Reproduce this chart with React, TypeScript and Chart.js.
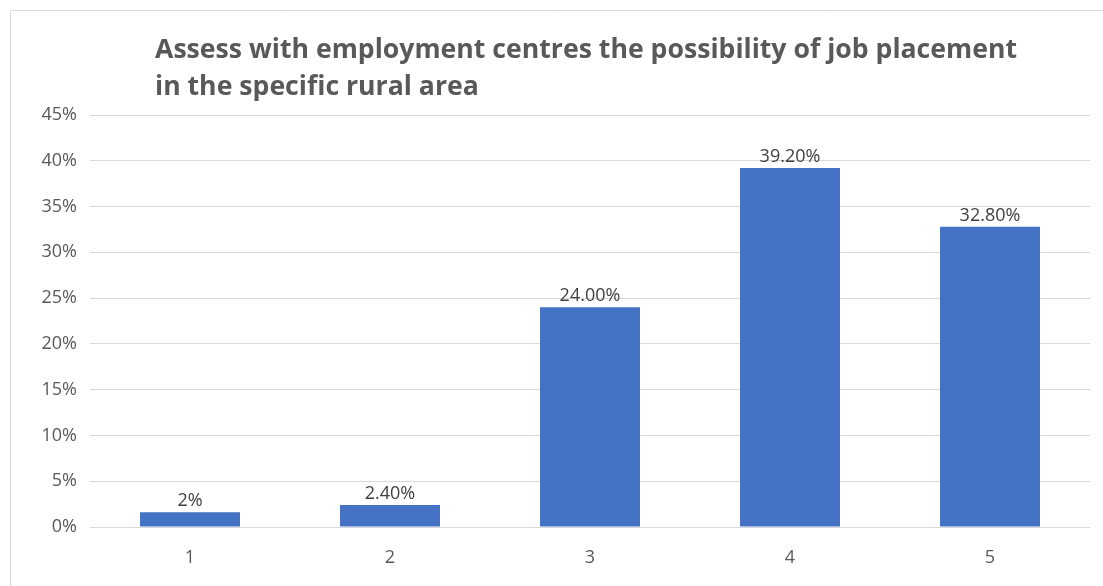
import React, { useEffect, useRef } from "react";
import { Chart, registerables } from "chart.js";

Chart.register(...registerables);

const categories = ["1", "2", "3", "4", "5"];
const values = [1.6, 2.4, 24.0, 39.2, 32.8];
const valueLabels = ["2%", "2.40%", "24.00%", "39.20%", "32.80%"];
const titleLines = [
  "Assess with employment centres the possibility of job placement",
  "in the specific rural area",
];

const FONT = "'Open Sans', 'Noto Sans', sans-serif";

const decorPlugin = {
  id: "decor",
  beforeDraw(chart: any) {
    const ctx = chart.ctx;
    ctx.save();
    ctx.fillStyle = "#ffffff";
    ctx.fillRect(0, 0, chart.width, chart.height);
    ctx.strokeStyle = "#d9d9d9";
    ctx.lineWidth = 1;
    ctx.beginPath();
    ctx.moveTo(10.5, chart.height);
    ctx.lineTo(10.5, 10.5);
    ctx.lineTo(chart.width, 10.5);
    ctx.stroke();
    ctx.restore();
  },
  afterDraw(chart: any) {
    const ctx = chart.ctx;
    ctx.save();
    // title
    ctx.fillStyle = "#595959";
    ctx.font = `bold 26px ${FONT}`;
    ctx.textAlign = "left";
    ctx.textBaseline = "alphabetic";
    const x0 = chart.chartArea.left + 65;
    const w = ctx.measureText(titleLines[0]).width;
    const sx = 862 / w;
    ctx.save();
    ctx.translate(x0, 0);
    ctx.scale(sx, 1);
    ctx.fillText(titleLines[0], 0, 58);
    ctx.fillText(titleLines[1], 0, 95);
    ctx.restore();
    // data labels
    ctx.font = `18px ${FONT}`;
    ctx.fillStyle = "#404040";
    ctx.textAlign = "center";
    ctx.textBaseline = "alphabetic";
    const meta = chart.getDatasetMeta(0);
    meta.data.forEach((bar: any, i: number) => {
      ctx.fillText(valueLabels[i], bar.x, bar.y - 6);
    });
    ctx.restore();
  },
};

export default function App() {
  const ref = useRef<HTMLCanvasElement>(null);
  useEffect(() => {
    document.body.style.margin = "0";
    const chart = new Chart(ref.current!, {
      type: "bar",
      data: {
        labels: categories,
        datasets: [
          {
            data: values,
            backgroundColor: "#4472C4",
            borderWidth: 0,
            barPercentage: 0.5,
            categoryPercentage: 1,
          },
        ],
      },
      options: {
        responsive: false,
        animation: false,
        layout: { padding: { top: 115, right: 13, left: 0, bottom: 0 } },
        plugins: {
          legend: { display: false },
          title: { display: false },
          tooltip: { enabled: false },
        },
        scales: {
          x: {
            grid: { display: false, drawTicks: false },
            border: { display: false },
            ticks: {
              color: "#595959",
              font: { family: FONT, size: 18 },
              padding: 20,
            },
            afterFit: (s: any) => {
              s.height = 59;
            },
          },
          y: {
            min: 0,
            max: 45,
            grid: { color: "#d9d9d9", drawTicks: false, lineWidth: 1 },
            border: { display: false },
            ticks: {
              stepSize: 5,
              color: "#595959",
              font: { family: FONT, size: 18 },
              padding: 13,
              callback: (v: any) => `${v}%`,
            },
            afterFit: (s: any) => {
              s.width = 90;
            },
          },
        },
      },
      plugins: [decorPlugin],
    });
    return () => chart.destroy();
  }, []);
  return <canvas ref={ref} width={1103} height={586} style={{ display: "block" }} />;
}
